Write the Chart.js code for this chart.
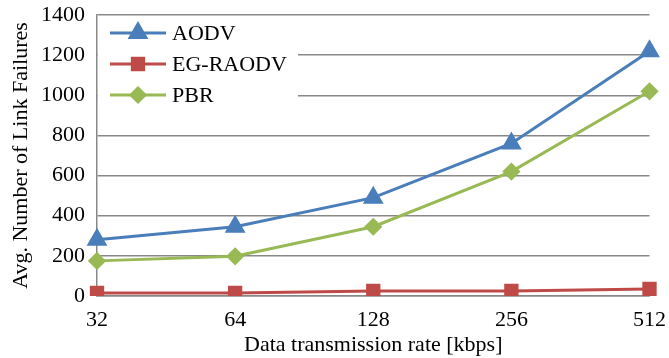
<!DOCTYPE html>
<html>
<head>
<meta charset="UTF-8" />
<script src="https://cdn.jsdelivr.net/npm/chart.js"></script>
<style>
  html, body { margin: 0; padding: 0; background: #fff; }
  #wrap { width: 669px; height: 358px; }
</style>
</head>
<body>
<div id="wrap"><canvas id="c"></canvas></div>
<script>
var rates = ["32", "64", "128", "256", "512"];
var aodv = [280, 345, 490, 760, 1220];
var egraodv = [15, 15, 25, 25, 35];
var pbr = [175, 198, 345, 620, 1020];

var font = "'Liberation Serif', 'Times New Roman', serif";

// legend drawn inside the plot on a white box (it hides the grid lines behind it)
var boxLegend = {
  id: "boxLegend",
  afterDatasetsDraw: function (chart) {
    var ctx = chart.ctx, a = chart.chartArea;
    ctx.save();
    ctx.fillStyle = "#fff";
    ctx.fillRect(a.left + 1, a.top + 6, 200, 100);
    chart.data.datasets.forEach(function (ds, i) {
      var y = a.top + 18 + i * 31;
      var x0 = a.left + 13, x1 = a.left + 69;
      ctx.strokeStyle = ds.borderColor;
      ctx.lineWidth = 3;
      ctx.beginPath(); ctx.moveTo(x0, y); ctx.lineTo(x1, y); ctx.stroke();
      ctx.fillStyle = ds.backgroundColor;
      Chart.helpers.drawPoint(ctx, {
        pointStyle: ds.pointStyle, radius: ds.pointRadius, rotation: 0, borderWidth: 1
      }, (x0 + x1) / 2, y);
      ctx.fillStyle = "#000";
      ctx.font = "22px " + font;
      ctx.textBaseline = "middle";
      ctx.fillText(ds.label, x1 + 6, y + 1);
    });
    ctx.restore();
  }
};

new Chart(document.getElementById("c"), {
  type: "line",
  data: {
    labels: rates,
    datasets: [
      { label: "AODV", data: aodv, borderColor: "#4a7ebb", backgroundColor: "#4a7ebb",
        pointStyle: "triangle", pointRadius: 9, borderWidth: 3 },
      { label: "EG-RAODV", data: egraodv, borderColor: "#be4b48", backgroundColor: "#be4b48",
        pointStyle: "rect", pointRadius: 8, borderWidth: 3 },
      { label: "PBR", data: pbr, borderColor: "#98b954", backgroundColor: "#98b954",
        pointStyle: "rectRot", pointRadius: 7, borderWidth: 3 }
    ]
  },
  options: {
    responsive: true,
    maintainAspectRatio: false,
    animation: false,
    layout: { padding: { top: 15, right: 19, left: 0, bottom: 0 } },
    plugins: { legend: { display: false }, tooltip: { enabled: false } },
    elements: { line: { tension: 0 } },
    scales: {
      x: {
        offset: false,
        grid: { display: false },
        border: { color: "#888", width: 1.5 },
        ticks: { color: "#000", font: { family: font, size: 22 }, padding: 3, maxRotation: 0 },
        title: { display: true, text: "Data transmission rate [kbps]", color: "#000",
                 font: { family: font, size: 22 }, padding: { top: 0, bottom: 0 } },
        afterFit: function (s) { s.height = 62; }
      },
      y: {
        min: 0, max: 1400,
        ticks: { stepSize: 200, color: "#000", font: { family: font, size: 22 }, padding: 12,
                 callback: function (v) { return String(v); } },
        grid: { color: "#888", lineWidth: 1.5, drawTicks: false },
        border: { color: "#888", width: 1.5 },
        title: { display: true, text: "Avg. Number of Link Failures", color: "#000",
                 font: { family: font, size: 22 }, padding: { top: 8, bottom: 0 } },
        afterFit: function (s) { s.width = 97; s.paddingTop = 0; s.paddingBottom = 0; }
      }
    }
  },
  plugins: [boxLegend]
});
</script>
</body>
</html>
